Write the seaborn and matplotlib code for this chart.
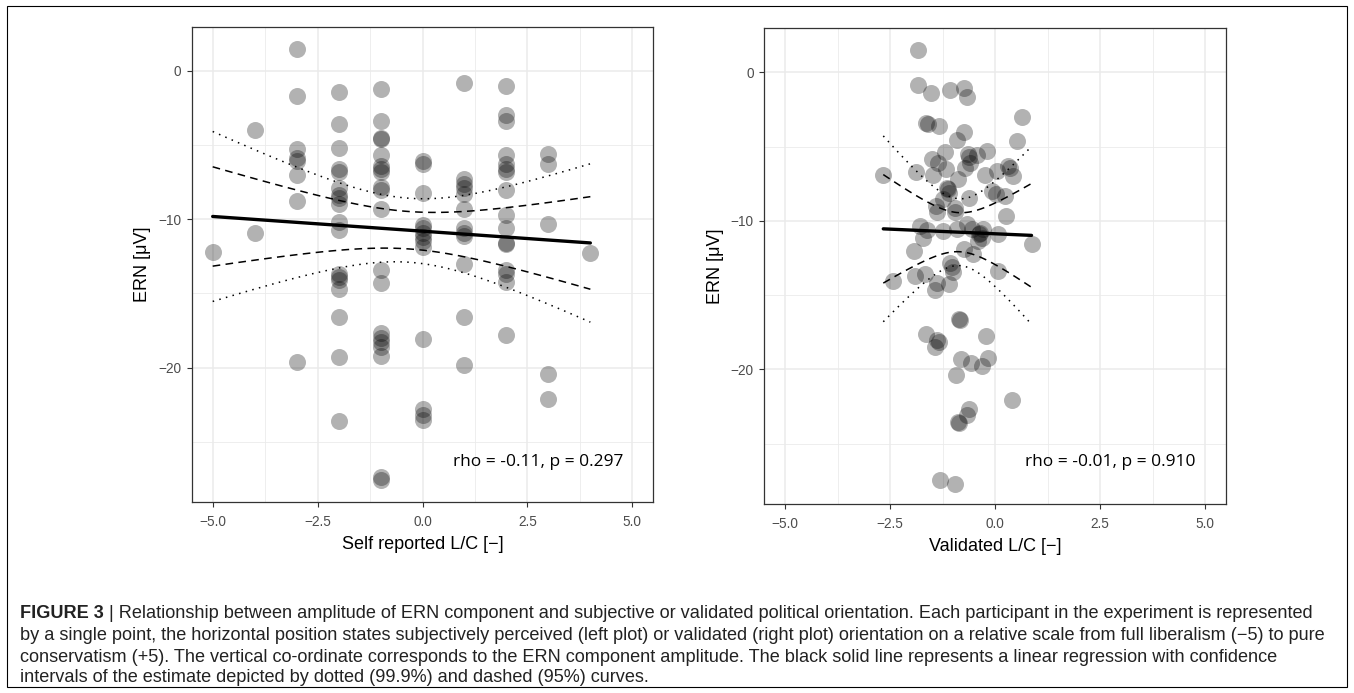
import numpy as np
import pandas as pd
import matplotlib
matplotlib.use("Agg")
import matplotlib.pyplot as plt
import seaborn as sns
from matplotlib.patches import Rectangle

# ---------------- data ----------------
# Left panel: self reported L/C (integer scale) -> ERN values per column
self_x_levels = [-5, -4, -3, -2, -1, 0, 1, 2, 3, 4]
self_ern = {
    -5: [-12.2],
    -4: [-4.0, -10.9],
    -3: [1.5, -1.7, -5.3, -5.9, -6.1, -7.0, -8.8, -19.6],
    -2: [-1.4, -3.6, -5.2, -6.6, -6.8, -7.9, -8.4, -8.6, -9.0, -10.2, -10.7,
         -13.7, -13.9, -14.1, -14.7, -16.6, -19.3, -23.6],
    -1: [-1.2, -3.4, -4.5, -4.6, -5.7, -6.4, -6.6, -6.8, -7.8, -8.0, -9.3,
         -13.4, -14.3, -17.7, -18.0, -18.3, -18.6, -19.2, -27.4, -27.6],
    0: [-6.1, -6.3, -8.2, -10.4, -10.6, -10.9, -11.2, -11.5, -11.9, -18.1,
        -22.8, -23.2, -23.5],
    1: [-0.8, -7.3, -7.6, -7.9, -8.3, -9.3, -10.6, -10.9, -11.1, -13.0,
        -16.6, -19.8],
    2: [-1.0, -3.0, -3.4, -5.7, -6.3, -6.6, -6.8, -8.0, -9.7, -10.6, -11.6,
        -11.7, -13.4, -13.7, -14.2, -17.8],
    3: [-5.6, -6.3, -10.3, -20.4, -22.1],
    4: [-12.3],
}

# Right panel: validated L/C vs ERN
valid_x = [-1.83, -1.83, -1.52, -1.06, -0.74, -0.66, 0.65, -1.64, -1.60, -1.33,
           -0.74, -0.91, 0.52, -0.20, -1.18, -0.65, -0.62, -0.44, -2.66, -1.87,
           -1.51, -1.35, -1.17, -1.48, -0.60, -0.72, -0.87, -1.15, -1.12, -1.09,
           -1.23, -1.40, -1.39, -0.95, -0.96, -0.63, -0.24, 0.04, 0.32, 0.35,
           0.44, -0.08, 0.02, 0.24, 0.26, -1.79, -1.63, -1.71, -1.23, -0.91,
           -0.67, -0.55, -0.36, -0.38, -0.32, -0.40, -0.28, 0.08, 0.87, -1.94,
           -0.75, -0.52, -1.07, -2.44, -1.90, -1.67, -1.39, -1.43, -1.09, -1.01,
           -1.03, 0.08, -0.86, -0.84, -1.65, -1.37, -1.33, -1.43, -0.21, -0.80,
           -0.57, -0.32, -0.17, -0.93, 0.40, -0.61, -0.67, -0.87, -0.85, -1.31,
           -0.95]
valid_ern = [1.48, -0.83, -1.43, -1.21, -1.05, -1.68, -3.03, -3.41, -3.48, -3.65,
             -4.01, -4.53, -4.64, -5.30, -5.35, -5.50, -5.70, -5.54, -6.95, -6.72,
             -5.87, -6.10, -6.54, -6.95, -6.10, -6.43, -7.22, -7.78, -7.85, -8.12,
             -8.56, -9.01, -9.41, -9.12, -9.41, -8.45, -6.90, -6.66, -6.32, -6.45,
             -7.00, -8.00, -8.20, -8.34, -9.68, -10.36, -10.65, -11.14, -10.69, -10.58,
             -10.24, -10.58, -10.80, -10.90, -11.14, -11.37, -10.54, -10.92, -11.59, -12.04,
             -11.93, -12.26, -12.82, -14.06, -13.72, -13.56, -14.17, -14.68, -14.23, -13.43,
             -13.12, -13.39, -16.64, -16.70, -17.65, -18.05, -18.15, -18.50, -17.76, -19.33,
             -19.60, -19.78, -19.26, -20.38, -22.08, -22.64, -23.09, -23.54, -23.62, -27.46,
             -27.69]

rho_labels = ["rho = -0.11, p = 0.297", "rho = -0.01, p = 0.910"]
x_labels = ["Self reported L/C [\u2212]", "Validated L/C [\u2212]"]
y_label = "ERN [\u03bcV]"
x_ticks = [-5.0, -2.5, 0.0, 2.5, 5.0]
x_minor = [-3.75, -1.25, 1.25, 3.75]
y_ticks = [0, -10, -20]
y_minor = [-5, -15, -25]

caption_bold = "FIGURE 3"
caption_lines = [
    " | Relationship between amplitude of ERN component and subjective or validated political orientation. Each participant in the experiment is represented",
    "by a single point, the horizontal position states subjectively perceived (left plot) or validated (right plot) orientation on a relative scale from full liberalism (\u22125) to pure",
    "conservatism (+5). The vertical co-ordinate corresponds to the ERN component amplitude. The black solid line represents a linear regression with confidence",
    "intervals of the estimate depicted by dotted (99.9%) and dashed (95%) curves.",
]

# ---------------- build frames ----------------
left_df = pd.DataFrame(
    [(x, v) for x in self_x_levels for v in self_ern[x]], columns=["x", "ern"]
)
right_df = pd.DataFrame({"x": valid_x, "ern": valid_ern})

try:
    from scipy import stats
    def tq(p, df):
        return stats.t.ppf(p, df)
except Exception:
    def tq(p, df):
        return {0.975: 1.987, 0.9995: 3.40}[p]


def fit_frame(df):
    x = df["x"].to_numpy(float)
    y = df["ern"].to_numpy(float)
    n = len(x)
    b1, b0 = np.polyfit(x, y, 1)
    res = y - (b0 + b1 * x)
    s = np.sqrt(np.sum(res ** 2) / (n - 2))
    xbar = x.mean()
    sxx = np.sum((x - xbar) ** 2)
    xs = np.linspace(x.min(), x.max(), 80)
    fit = b0 + b1 * xs
    se = s * np.sqrt(1.0 / n + (xs - xbar) ** 2 / sxx)
    t95 = tq(0.975, n - 2)
    t999 = tq(0.9995, n - 2)
    return pd.DataFrame({
        "x": xs, "fit": fit,
        "lo95": fit - t95 * se, "hi95": fit + t95 * se,
        "lo999": fit - t999 * se, "hi999": fit + t999 * se,
    })

# ---------------- figure ----------------
sns.set_theme(style="white")
plt.rcParams["font.family"] = ["Liberation Sans", "DejaVu Sans"]
plt.rcParams["axes.unicode_minus"] = True

W, H = 1354, 693
fig = plt.figure(figsize=(W / 100, H / 100), dpi=100)
fig.patch.set_facecolor("white")

ax_pos = [
    [191.7 / W, (H - 502) / H, 461.6 / W, 475 / H],
    [764.0 / W, (H - 504) / H, 462.0 / W, 475.7 / H],
]
rho_pos = [(538, 462), (1110, 462)]

grid_col = "#ebebeb"
frame_col = "#333333"

for i, df in enumerate([left_df, right_df]):
    ax = fig.add_axes(ax_pos[i])
    ax.set_facecolor("white")
    ax.set_xlim(-5.5, 5.5)
    ax.set_ylim(-29.06, 2.955)
    ax.set_xticks(x_ticks)
    ax.set_xticks(x_minor, minor=True)
    ax.set_yticks(y_ticks)
    ax.set_yticks(y_minor, minor=True)
    ax.set_xticklabels([f"{t:.1f}".replace("-", "\u2212") for t in x_ticks])
    ax.set_yticklabels([f"{t}".replace("-", "\u2212") for t in y_ticks])
    ax.grid(True, which="major", color=grid_col, linewidth=1.1, zorder=0)
    ax.grid(True, which="minor", color=grid_col, linewidth=0.6, zorder=0)
    ax.set_axisbelow(True)
    for sp in ax.spines.values():
        sp.set_color(frame_col)
        sp.set_linewidth(0.9)
    ax.tick_params(axis="both", which="major", length=3.5, width=0.8,
                   color=frame_col, labelcolor="#4d4d4d", labelsize=9.8, pad=4,
                   direction="out", bottom=True, left=True)
    ax.tick_params(axis="x", which="major", pad=6)
    ax.tick_params(axis="both", which="minor", length=0)

    sns.scatterplot(data=df, x="x", y="ern", ax=ax, color="black", alpha=0.3,
                    s=150, linewidth=0, zorder=3, legend=False)

    fr = fit_frame(df)
    sns.lineplot(data=fr, x="x", y="fit", ax=ax, color="black", lw=2.4,
                 sort=False, estimator=None, zorder=4)
    for col in ["lo95", "hi95"]:
        sns.lineplot(data=fr, x="x", y=col, ax=ax, color="black", lw=1.1,
                     sort=False, estimator=None, zorder=4, dashes=False)
        ax.lines[-1].set_dashes([5, 3.5])
    for col in ["lo999", "hi999"]:
        sns.lineplot(data=fr, x="x", y=col, ax=ax, color="black", lw=1.1,
                     sort=False, estimator=None, zorder=4)
        ax.lines[-1].set_dashes([1, 3.5])

    ax.set_xlabel(x_labels[i], fontsize=13, color="black", labelpad=5)
    ax.set_ylabel(y_label, fontsize=13, color="black", labelpad=5)

    fig.text(rho_pos[i][0] / W, 1 - rho_pos[i][1] / H, rho_labels[i],
             ha="center", va="center", fontsize=12.5,
             family=["Open Sans", "DejaVu Sans"], color="black")

# caption
cap_x = 20 / W
line_y = [614, 636, 657, 678]
cap_fs = 13.1
t_bold = fig.text(cap_x, 1 - line_y[0] / H, caption_bold, fontsize=cap_fs,
                  fontweight="bold", va="center", ha="left", color="#222222")
renderer = fig.canvas.get_renderer()
bb = t_bold.get_window_extent(renderer=renderer)
fig.text(bb.x1 / W, 1 - line_y[0] / H, caption_lines[0], fontsize=cap_fs,
         va="center", ha="left", color="#222222")
for k in range(1, 4):
    fig.text(cap_x, 1 - line_y[k] / H, caption_lines[k], fontsize=cap_fs,
             va="center", ha="left", color="#222222")

# outer border
fig.patches.append(Rectangle((7 / W, 6 / H), 1340 / W, 681 / H,
                             transform=fig.transFigure, fill=False,
                             edgecolor="black", linewidth=0.8))

fig.savefig("out.png", dpi=100)
